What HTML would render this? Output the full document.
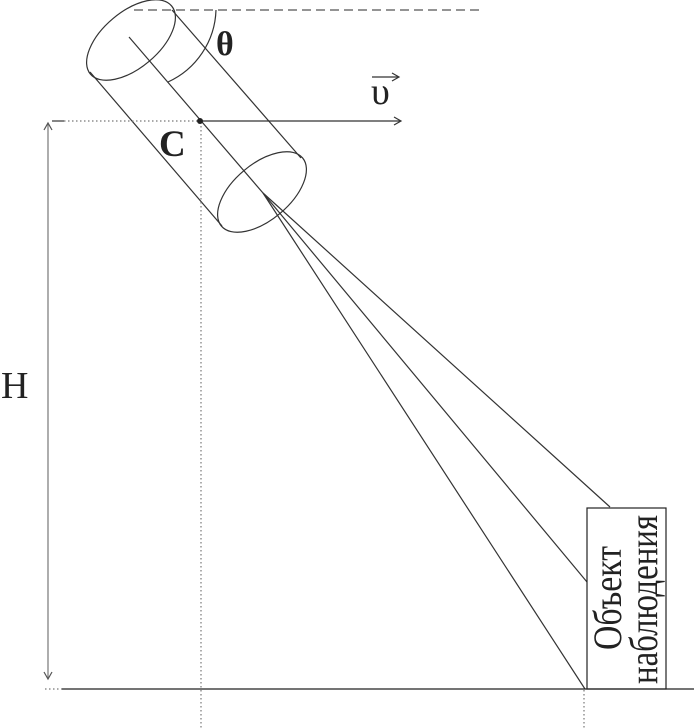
<!DOCTYPE html>
<html><head><meta charset="utf-8"><style>
html,body{margin:0;padding:0;background:#fff;}
svg{display:block;}
text{font-family:"Liberation Serif","DejaVu Serif","Noto Serif CJK SC",serif;fill:#222;}
</style></head><body>
<svg width="694" height="728" viewBox="0 0 694 728" xmlns="http://www.w3.org/2000/svg">
<g fill="none" stroke="#333" stroke-width="1.2">
  <line x1="134" y1="10" x2="484" y2="10" stroke-dasharray="9,5" stroke="#555"/>
  <path d="M216,10 A82,82 0 0 1 168,82"/>
  <ellipse cx="131" cy="40" rx="53" ry="28" transform="rotate(-40 131 40)"/>
  <ellipse cx="262" cy="192" rx="53" ry="28" transform="rotate(-40 262 192)"/>
  <line x1="172" y1="10" x2="301" y2="158"/>
  <line x1="90" y1="72" x2="222" y2="226"/>
  <line x1="129" y1="37" x2="263" y2="193"/>
  <line x1="263" y1="193" x2="610" y2="507"/>
  <line x1="263" y1="193" x2="587" y2="582"/>
  <line x1="263" y1="193" x2="585" y2="689"/>
  <line x1="201" y1="121" x2="400" y2="121"/>
  <path d="M394,117 L401,121 L394,125"/>
  <line x1="372" y1="77" x2="398" y2="77"/>
  <path d="M392,73 L399,77 L392,81"/>
  <line x1="64" y1="121" x2="200" y2="121" stroke-dasharray="1.5,2.5" stroke="#777"/>
  <line x1="52" y1="121" x2="64" y2="121"/>
  <line x1="201" y1="122" x2="201" y2="728" stroke-dasharray="1.5,2.5" stroke="#777"/>
  <line x1="584" y1="690" x2="584" y2="728" stroke-dasharray="1.5,2.5" stroke="#777"/>
  <line x1="45" y1="689" x2="62" y2="689" stroke-dasharray="1.5,2.5" stroke="#777"/>
  <line x1="62" y1="689" x2="694" y2="689" stroke="#222"/>
  <line x1="48" y1="124" x2="48" y2="678" stroke="#777"/>
  <path d="M44,130 L48,123 L52,130" stroke="#555"/>
  <path d="M44,672 L48,679 L52,672" stroke="#555"/>
  <rect x="587" y="508" width="79" height="181" stroke="#222"/>
</g>
<circle cx="200" cy="121" r="3" fill="#222"/>
<text x="216" y="55" font-size="34" font-weight="bold">θ</text>
<text x="159" y="156" font-size="37" font-weight="bold">C</text>
<text x="371" y="104" font-size="38">υ</text>
<text x="1" y="398" font-size="38">H</text>
<text transform="translate(621,650) rotate(-90)" font-size="40" textLength="104" lengthAdjust="spacingAndGlyphs">Объект</text>
<text transform="translate(657,684) rotate(-90)" font-size="40" textLength="169" lengthAdjust="spacingAndGlyphs">наблюдения</text>
</svg>
</body></html>
